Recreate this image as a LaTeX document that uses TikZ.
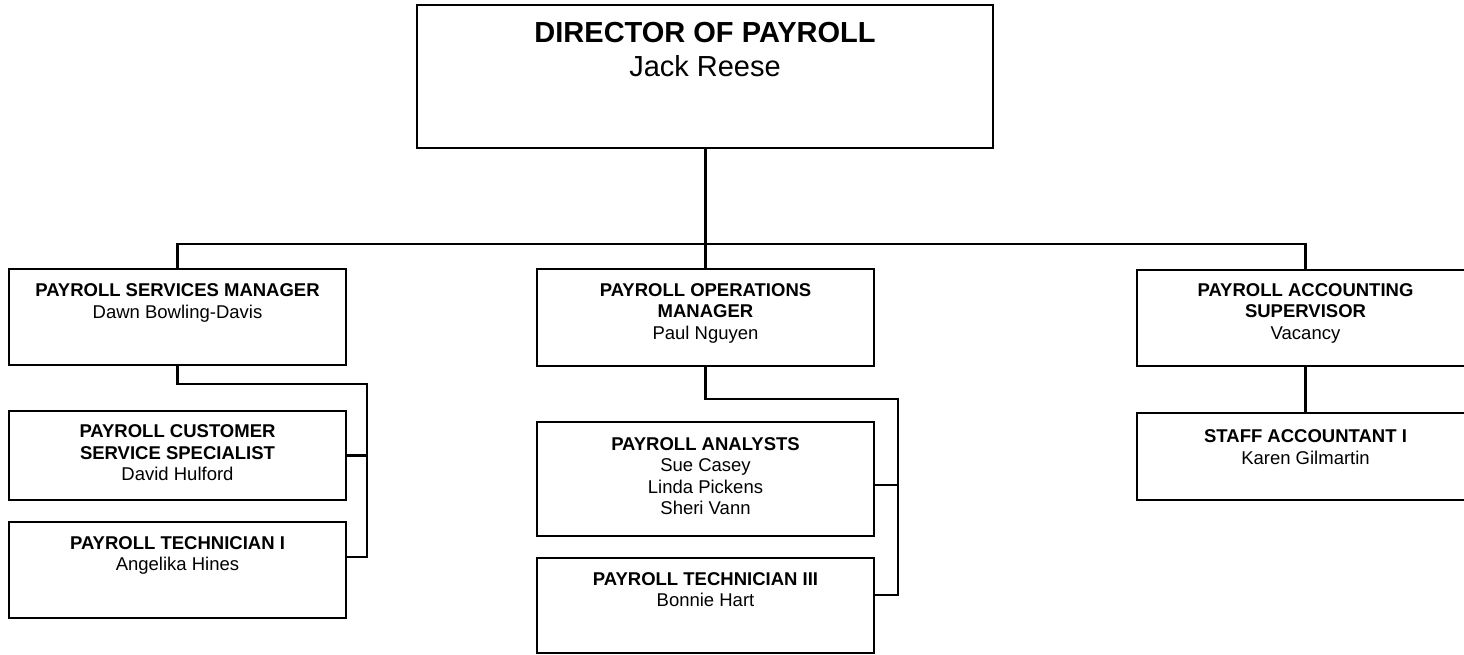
\documentclass[tikz,border=0pt]{standalone}
\usepackage{fontspec}
\setmainfont{Liberation Sans}
\begin{document}
\begin{tikzpicture}[x=1pt,y=-1pt,
  box/.style={draw=black,line width=2.2pt,rectangle,inner sep=0pt,minimum width=337pt},
  conn/.style={draw=black,line width=2.2pt,line join=miter},
  small/.style={anchor=base,align=center,inner sep=0pt,font=\fontsize{18.5}{21.6}\selectfont},
  big/.style={anchor=base,align=center,inner sep=0pt,font=\fontsize{29}{34}\selectfont}]
\useasboundingbox (0,0) rectangle (1464,654);
\clip (0,0) rectangle (1464,654);
% boxes
\node[box,minimum width=576pt,minimum height=143pt] (dir) at (705,76.5) {};
\node[box,minimum height=96pt] (psm) at (177.5,317) {};
\node[box,minimum height=89pt] (pcss) at (177.5,455.5) {};
\node[box,minimum height=96pt] (pt1) at (177.5,570) {};
\node[box,minimum height=97pt] (pom) at (705.5,317.5) {};
\node[box,minimum height=114pt] (pa) at (705.5,479) {};
\node[box,minimum height=95pt] (pt3) at (705.5,605.5) {};
\node[box,minimum height=96pt] (pas) at (1305.5,318) {};
\node[box,minimum height=87pt] (sa) at (1305.5,456.5) {};
% texts (anchored at the baseline of their last line)
\node[big] (tdir) at (705,76.7) {\textbf{DIRECTOR OF PAYROLL}\\Jack Reese};
\node[small] (tpsm) at (177.5,318.1) {\textbf{PAYROLL SERVICES MANAGER}\\Dawn Bowling-Davis};
\node[small] (tpcss) at (177.5,480.9) {\textbf{PAYROLL CUSTOMER}\\\textbf{SERVICE SPECIALIST}\\David Hulford};
\node[small] (tpt1) at (177.5,570.6) {\textbf{PAYROLL TECHNICIAN I}\\Angelika Hines};
\node[small] (tpom) at (705.5,339.2) {\textbf{PAYROLL OPERATIONS}\\\textbf{MANAGER}\\Paul Nguyen};
\node[small] (tpa) at (705.5,514.8) {\textbf{PAYROLL ANALYSTS}\\Sue Casey\\Linda Pickens\\Sheri Vann};
\node[small] (tpt3) at (705.5,606.6) {\textbf{PAYROLL TECHNICIAN III}\\Bonnie Hart};
\node[small] (tpas) at (1305.5,339.2) {\textbf{PAYROLL ACCOUNTING}\\\textbf{SUPERVISOR}\\Vacancy};
\node[small] (tsa) at (1305.5,464.3) {\textbf{STAFF ACCOUNTANT I}\\Karen Gilmartin};
% connectors
\coordinate (bus) at (705.5,244);
\draw[conn] (dir.south -| bus) -- (bus);
\draw[conn] (psm.north) |- (bus) -| (pas.north);
\draw[conn] (bus) -- (pom.north);
\coordinate (l1) at (367,384);
\coordinate (l1b) at (367,557);
\draw[conn] (psm.south) |- (l1) -- (l1b) -- (pt1.east |- l1b);
\draw[conn] (pcss.east) -- (pcss.east -| l1);
\coordinate (m1) at (898,399);
\coordinate (m1b) at (898,595);
\coordinate (m1c) at (898,485);
\draw[conn] (pom.south) |- (m1) -- (m1b) -- (pt3.east |- m1b);
\draw[conn] (m1c) -- (pa.east |- m1c);
\draw[conn] (pas.south) -- (sa.north);
\end{tikzpicture}
\end{document}
